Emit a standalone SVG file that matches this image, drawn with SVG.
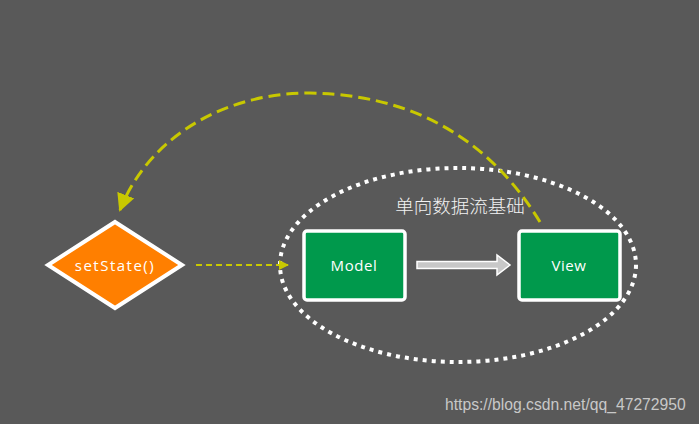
<svg xmlns="http://www.w3.org/2000/svg" width="699" height="424" viewBox="0 0 699 424">
<style>
.lbl{font-family:"Open Sans","DejaVu Sans",sans-serif;font-size:15px;fill:#fff;text-anchor:middle;dominant-baseline:central;letter-spacing:0.6px}
.box{fill:#00994C;stroke:#fff;stroke-width:3.5}
</style>
<defs>
<marker id="ah" markerWidth="10" markerHeight="10" refX="9" refY="5" orient="auto" markerUnits="userSpaceOnUse" viewBox="0 0 10 10">
<path d="M0,0 L10,5 L0,10 z" fill="#C8C800"/>
</marker>
<marker id="ah2" markerWidth="18" markerHeight="18" refX="16" refY="9" orient="auto" markerUnits="userSpaceOnUse" viewBox="0 0 18 18">
<path d="M0,0 L18,9 L0,18 z" fill="#C8C800"/>
</marker>
</defs>
<rect width="699" height="424" fill="#595959"/>
<g id="group-ellipse">
<ellipse cx="458" cy="265" rx="178" ry="97" fill="none" stroke="#fff" stroke-width="4" stroke-dasharray="4 5"/>
<text x="460" y="205" font-family="'Noto Sans CJK SC',sans-serif" font-size="18.5" font-weight="300" fill="#f2f2f2" text-anchor="middle" dominant-baseline="central">单向数据流基础</text>
</g>
<g id="connectors">
<path d="M540,222 C505,165 440,95 310,93 C215,93 145,145 120,210" fill="none" stroke="#C8C800" stroke-width="3" stroke-dasharray="12 6" marker-end="url(#ah2)"/>
<line x1="196" y1="265" x2="288" y2="265" stroke="#C8C800" stroke-width="2" stroke-dasharray="6 4" marker-end="url(#ah)"/>
<path d="M417,261.5 H497 V255 L510,265 L497,275 V268.5 H417 z" fill="#C8C8C8" stroke="#fff" stroke-width="1.5"/>
</g>
<g id="node-setstate">
<polygon points="115,222 182,265 115,308 48,265" fill="#FF7F00" stroke="#fff" stroke-width="4" stroke-linejoin="miter"/>
<text class="lbl" x="115" y="265" style="letter-spacing:1.5px">setState()</text>
</g>
<g id="node-model">
<rect class="box" x="304" y="231" width="101" height="69" rx="3"/>
<text class="lbl" x="354" y="265">Model</text>
</g>
<g id="node-view">
<rect class="box" x="519" y="231" width="101" height="69" rx="3"/>
<text class="lbl" x="569" y="265">View</text>
</g>
<text x="445" y="410" font-family="'Liberation Sans',sans-serif" font-size="15.7" fill="#C8C8C8">https://blog.csdn.net/qq_47272950</text>
</svg>
